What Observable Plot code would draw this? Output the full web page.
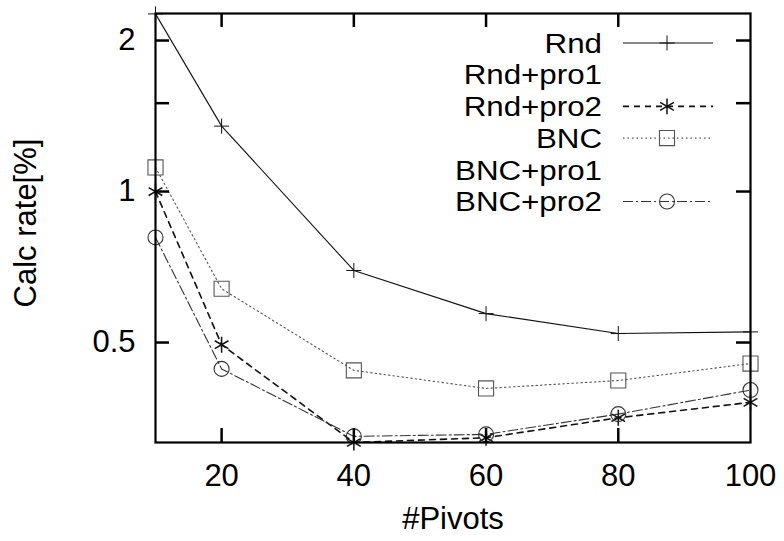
<!DOCTYPE html>
<html>
<head>
<meta charset="utf-8">
<script src="https://cdn.jsdelivr.net/npm/d3@7"></script>
<script src="https://cdn.jsdelivr.net/npm/@observablehq/plot@0.6"></script>
<style>
  html, body { margin: 0; padding: 0; background: #fff; }
  #chart { width: 784px; height: 541px; }
</style>
</head>
<body>
<div id="chart"></div>
<script>
// ---- data ----
const pivots = [10, 20, 40, 60, 80, 100];
const seriesNames = ["Rnd", "Rnd+pro1", "Rnd+pro2", "BNC", "BNC+pro1", "BNC+pro2"];
const rnd     = [2.26, 1.35, 0.696, 0.571, 0.521, 0.525];
const rndPro1 = [];   // listed in legend, not drawn
const rndPro2 = [1.0, 0.495, 0.316, 0.323, 0.354, 0.38];
const bnc     = [1.117, 0.64, 0.44, 0.405, 0.42, 0.454];
const bncPro1 = [];   // listed in legend, not drawn
const bncPro2 = [0.81, 0.443, 0.325, 0.328, 0.36, 0.402];
const xTickValues = [20, 40, 60, 80, 100];
const xTickMarks = [20, 40, 60, 80];
const yTickLabels = [0.5, 1, 2];
const yTickMarks = [0.5, 1, 1.5, 2];
const xTitle = "#Pivots";
const yTitle = "Calc rate[%]";

// ---- styles (separate from data) ----
const styles = {
  "Rnd":      {stroke: "#111", width: 1.1, dash: null,        symbol: "plus",     r: 4.9, symStroke: "#111", symWidth: 1},
  "Rnd+pro1": null,
  "Rnd+pro2": {stroke: "#111", width: 1.6, dash: "6,5",       symbol: "asterisk", r: 7.5, symStroke: "#111", symWidth: 1.5},
  "BNC":      {stroke: "#555", width: 1.1, dash: "1.5,3",     symbol: "square",   r: 8.5, symStroke: "#555", symWidth: 1.1},
  "BNC+pro1": null,
  "BNC+pro2": {stroke: "#333", width: 1.1, dash: "10,3,2,3",  symbol: "circle",   r: 7.5, symStroke: "#333", symWidth: 1.1}
};

const valuesBySeries = {
  "Rnd": rnd, "Rnd+pro1": rndPro1, "Rnd+pro2": rndPro2,
  "BNC": bnc, "BNC+pro1": bncPro1, "BNC+pro2": bncPro2
};

const rows = [];
for (const name of seriesNames) {
  valuesBySeries[name].forEach((v, i) => rows.push({series: name, pivots: pivots[i], rate: v}));
}

const font = "'Liberation Sans', Arial, Helvetica, sans-serif";
const M = {left: 155, right: 34, top: 13, bottom: 99};
const W = 784, H = 541;
const plotW = W - M.left - M.right;   // 595
const plotH = H - M.top - M.bottom;   // 429
const tickLen = 14;

const seriesMarks = [];
for (const name of seriesNames) {
  const s = styles[name];
  if (!s) continue;
  const d = rows.filter(r => r.series === name);
  seriesMarks.push(Plot.line(d, {
    x: "pivots", y: "rate", stroke: s.stroke, strokeWidth: s.width,
    strokeDasharray: s.dash || undefined
  }));
  seriesMarks.push(Plot.dot(d, {
    x: "pivots", y: "rate", symbol: () => s.symbol, r: s.r,
    stroke: s.symStroke, strokeWidth: s.symWidth, fill: "none"
  }));
}

const chart = Plot.plot({
  width: W,
  height: H,
  marginLeft: M.left,
  marginRight: M.right,
  marginTop: M.top,
  marginBottom: M.bottom,
  style: {fontFamily: font, fontSize: "31px", color: "#000", background: "#fff", overflow: "visible"},
  x: {type: "linear", domain: [10, 100]},
  y: {type: "log", domain: [0.316, 2.264]},
  symbol: {type: "identity"},
  marks: [
    ...seriesMarks,
    Plot.frame({stroke: "#000", strokeWidth: 2.2}),
    // inward ticks (rules shortened with insets)
    Plot.ruleX(xTickMarks, {x: d => d, stroke: "#000", strokeWidth: 2.5, insetTop: plotH - tickLen}),
    Plot.ruleX(xTickMarks, {x: d => d, stroke: "#000", strokeWidth: 2.5, insetBottom: plotH - tickLen}),
    Plot.ruleY(yTickMarks, {y: d => d, stroke: "#000", strokeWidth: 2.5, insetRight: plotW - tickLen}),
    Plot.ruleY(yTickMarks, {y: d => d, stroke: "#000", strokeWidth: 2.5, insetLeft: plotW - tickLen}),
    // tick labels
    Plot.axisX(xTickValues, {anchor: "bottom", tickSize: 0, tickPadding: 21, tickFormat: d => String(d), label: null, fontSize: 31}),
    Plot.axisY(yTickLabels, {anchor: "left", tickSize: 0, tickPadding: 20, tickFormat: d => String(d), label: null, fontSize: 31})
  ]
});

document.getElementById("chart").appendChild(chart);

const svg = d3.select(chart);

// axis titles
svg.append("text")
  .attr("x", 453).attr("y", 529)
  .attr("text-anchor", "middle")
  .attr("font-family", font).attr("font-size", 31).attr("fill", "#000")
  .text(xTitle);

svg.append("text")
  .attr("transform", "translate(36,223) rotate(-90)")
  .attr("text-anchor", "middle")
  .attr("font-family", font).attr("font-size", 31).attr("fill", "#000")
  .text(yTitle);

// legend
const symbolTypes = {plus: d3.symbolPlus, asterisk: d3.symbolAsterisk, square: d3.symbolSquare, circle: d3.symbolCircle};
const legend = svg.append("g").attr("class", "legend");
seriesNames.forEach((name, i) => {
  const y = 43 + i * 31.7;
  legend.append("text")
    .attr("transform", `translate(602,${y}) scale(1.16,1)`)
    .attr("dy", "0.36em")
    .attr("text-anchor", "end")
    .attr("font-family", font).attr("font-size", 27).attr("fill", "#000")
    .text(name);
  const s = styles[name];
  if (!s) return;
  legend.append("line")
    .attr("x1", 623).attr("x2", 713).attr("y1", y).attr("y2", y)
    .attr("stroke", s.stroke).attr("stroke-width", s.width)
    .attr("stroke-dasharray", s.dash);
  legend.append("path")
    .attr("transform", `translate(667,${y})`)
    .attr("d", d3.symbol(symbolTypes[s.symbol], Math.PI * s.r * s.r)())
    .attr("fill", "none").attr("stroke", s.symStroke).attr("stroke-width", s.symWidth);
});
</script>
</body>
</html>
